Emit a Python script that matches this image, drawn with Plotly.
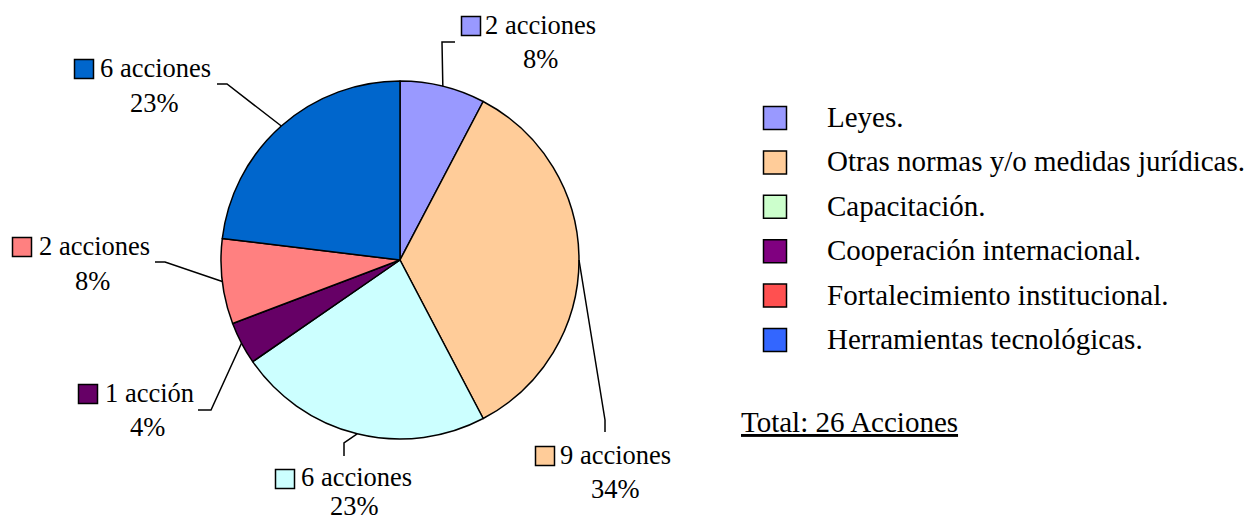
import math
import plotly.graph_objects as go

W, H = 1250, 523

# ---- data ----
categories = ["Leyes.", "Otras normas y/o medidas jurídicas.", "Capacitación.",
              "Cooperación internacional.", "Fortalecimiento institucional.",
              "Herramientas tecnológicas."]
acciones = [2, 9, 6, 1, 2, 6]
count_labels = ["2 acciones", "9 acciones", "6 acciones", "1 acción", "2 acciones", "6 acciones"]
pct_labels = ["8%", "34%", "23%", "4%", "8%", "23%"]
total_label = "Total: 26 Acciones"

pie_colors = ["#9999FF", "#FFCC99", "#CCFFFF", "#660066", "#FF8080", "#0066CC"]
legend_colors = ["#9999FF", "#FFCC99", "#CCFFCC", "#800080", "#FF5050", "#3366FF"]

FONT = "Liberation Serif"

# ---- pie geometry (pixels) ----
cx, cy, R = 400, 260, 179

def px(x):
    return x / W

def py(y):
    return 1 - y / H

fig = go.Figure(go.Pie(
    labels=categories, values=acciones, sort=False, direction="clockwise", rotation=0,
    marker=dict(colors=pie_colors, line=dict(color="black", width=1.5)),
    textinfo="none", hoverinfo="label+value+percent", showlegend=False,
    domain=dict(x=[px(cx - R), px(cx + R)], y=[py(cy + R), py(cy - R)]),
))

# label layout (pixel positions of label pieces)
elbows = [[(442, 42), (455, 42)], [(605, 420), (605, 432)], [(344, 443), (344, 456)],
          [(211, 410), (198, 410)], [(165, 262), (155, 262)], [(227, 84), (217, 84)]]
sq_centers = [(471, 26), (545, 456), (285, 479), (88, 394), (22, 247), (84, 69)]
text_starts = [(483, 25), (558, 455), (299, 477), (103, 393), (37, 246), (98, 68)]
pct_pos = [(540, 59), (615, 489), (355, 506), (147, 427), (93, 281), (154, 103)]

shapes = []
annotations = []
total = sum(acciones)
cum = 0
for i, v in enumerate(acciones):
    mid = (cum + v / 2) / total * 2 * math.pi
    cum += v
    sx = cx + R * math.sin(mid)
    sy = cy - R * math.cos(mid)
    pts = [(sx, sy)] + elbows[i]
    path = "M " + " L ".join(f"{px(x):.5f},{py(y):.5f}" for x, y in pts)
    shapes.append(dict(type="path", path=path, xref="paper", yref="paper",
                       line=dict(color="black", width=1.5)))
    s = 9.5
    qx, qy = sq_centers[i]
    shapes.append(dict(type="rect", xref="paper", yref="paper",
                       x0=px(qx - s), x1=px(qx + s), y0=py(qy + s), y1=py(qy - s),
                       fillcolor=pie_colors[i], line=dict(color="black", width=1.5)))
    tx, ty = text_starts[i]
    annotations.append(dict(text=count_labels[i], x=px(tx), y=py(ty), xref="paper", yref="paper",
                            xanchor="left", yanchor="middle", showarrow=False,
                            font=dict(family=FONT, size=26.5, color="black")))
    ppx, ppy = pct_pos[i]
    annotations.append(dict(text=pct_labels[i], x=px(ppx), y=py(ppy), xref="paper", yref="paper",
                            xanchor="center", yanchor="middle", showarrow=False,
                            font=dict(family=FONT, size=26.5, color="black")))

# custom legend
for i, name in enumerate(categories):
    yc = 118 + i * 44.4
    s = 11.5
    shapes.append(dict(type="rect", xref="paper", yref="paper",
                       x0=px(775 - s), x1=px(775 + s), y0=py(yc + s), y1=py(yc - s),
                       fillcolor=legend_colors[i], line=dict(color="black", width=1.5)))
    annotations.append(dict(text=name, x=px(825), y=py(yc - 1), xref="paper", yref="paper",
                            xanchor="left", yanchor="middle", showarrow=False,
                            font=dict(family=FONT, size=29, color="black")))

annotations.append(dict(text=f"<u>{total_label}</u>", x=px(739), y=py(422), xref="paper", yref="paper",
                        xanchor="left", yanchor="middle", showarrow=False,
                        font=dict(family=FONT, size=29, color="black")))

fig.update_layout(
    width=W, height=H, margin=dict(l=0, r=0, t=0, b=0),
    paper_bgcolor="white", plot_bgcolor="white",
    shapes=shapes, annotations=annotations,
)

fig.write_html("out.html", config={"displayModeBar": False},
               post_script="document.body.style.margin='0';document.body.style.overflow='hidden';")
